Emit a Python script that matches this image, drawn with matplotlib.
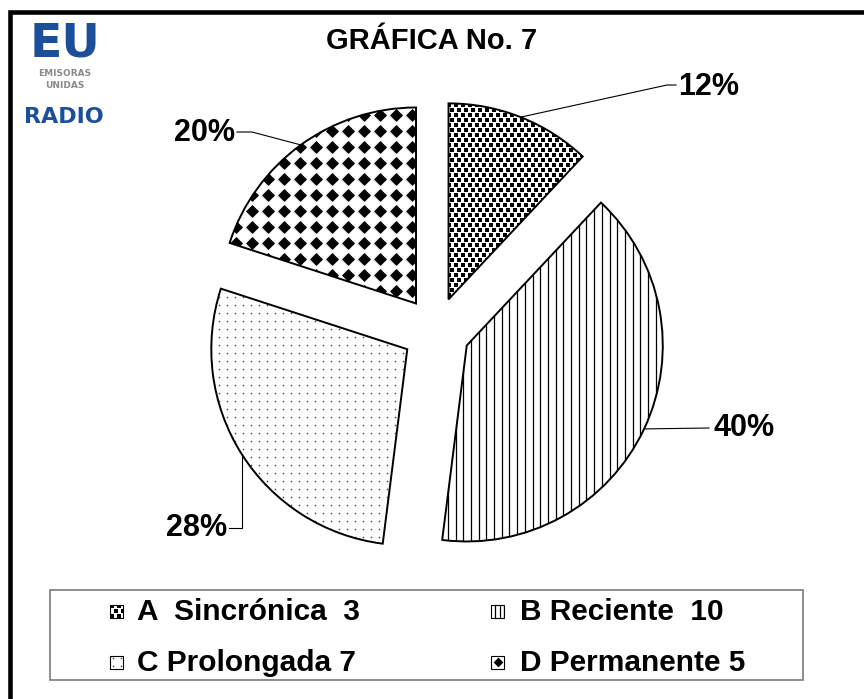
import numpy as np
import matplotlib
matplotlib.use("Agg")
import matplotlib.pyplot as plt
from matplotlib.patches import Rectangle, Wedge

# datos de la gráfica
categorias = ["A  Sincrónica", "B Reciente", "C Prolongada", "D Permanente"]
frecuencias = [3, 10, 7, 5]
separadores = ["  ", "  ", " ", " "]
patrones = ["A", "B", "C", "D"]
titulo = "GRÁFICA No. 7"

W, H = 864, 699
plt.rcParams['font.family'] = ['Liberation Sans', 'DejaVu Sans']


def Y(y):
    # coordenadas de pantalla (y hacia abajo) -> datos (y hacia arriba)
    return H - y


fig = plt.figure(figsize=(W / 100, H / 100), dpi=100)
ax = fig.add_axes([0, 0, 1, 1])


def rellenar(patron, clip, x0, x1, y0, y1, ox=None, oy=None, esc=1.0):
    ox = x0 if ox is None else ox
    oy = y0 if oy is None else oy
    arts = []
    if patron == "A":
        dx, dy = 7 * esc, 5 * esc
        pts = []
        for i, yy in enumerate(np.arange(oy, y1 + dy, dy)):
            for xx in np.arange(ox + (i % 2) * dx / 2, x1 + dx, dx):
                pts.append((xx, yy))
        pts = np.array(pts)
        arts.append(ax.scatter(pts[:, 0], pts[:, 1], marker="s", s=5.5,
                               c="black", linewidths=0))
    elif patron == "B":
        dx = 7.7 * esc
        xs = np.arange(ox, x1 + dx, dx)
        arts.append(ax.vlines(xs, y0, y1, colors="black", linewidth=0.9))
    elif patron == "C":
        d = 8 * esc
        gx, gy = np.meshgrid(np.arange(ox, x1 + d, d), np.arange(oy, y1 + d, d))
        arts.append(ax.scatter(gx.ravel(), gy.ravel(), marker="o", s=1.4,
                               c="#444444", linewidths=0))
    elif patron == "D":
        d = 16 * esc
        gx, gy = np.meshgrid(np.arange(ox, x1 + d, d), np.arange(oy, y1 + d, d))
        arts.append(ax.scatter(gx.ravel(), gy.ravel(), marker="D",
                               s=44 * esc ** 2, c="black", linewidths=0))
    for a in arts:
        a.set_clip_path(clip)


# pastel explotado (explode en unidades de datos = píxeles)
wedges, _ = ax.pie(frecuencias, startangle=90, counterclock=False,
                   explode=[34] * len(frecuencias), center=(436, Y(331)),
                   radius=196,
                   wedgeprops=dict(facecolor="white", edgecolor="none", zorder=1))

for w, p in zip(wedges, patrones):
    cx, cy = w.center
    rellenar(p, w, cx - w.r, cx + w.r, cy - w.r, cy + w.r)
    ax.add_patch(Wedge(w.center, w.r, w.theta1, w.theta2, facecolor="none",
                       edgecolor="black", linewidth=1.4, zorder=3))

# porcentajes con líneas guía
total = sum(frecuencias)
pos_etq = [(678, 87, "left"), (713, 428, "left"), (227, 528, "right"), (235, 133, "right")]
codos = [[(667, 85), (676, 85)], [(709, 428)], [(None, 528), (229, 528)],
         [(252, 132), (237, 132)]]
for w, v, (lx, ly, ha), cod in zip(wedges, frecuencias, pos_etq, codos):
    ang = np.deg2rad((w.theta1 + w.theta2) / 2)
    px = w.center[0] + w.r * np.cos(ang)
    py = w.center[1] + w.r * np.sin(ang)
    xs, ys = [px], [py]
    for (qx, qy) in cod:
        xs.append(px if qx is None else qx)
        ys.append(Y(qy))
    ax.plot(xs, ys, color="black", linewidth=0.8, zorder=4)
    ax.text(lx, Y(ly), f"{round(v / total * 100)}%", ha=ha, va="center",
            fontsize=22, fontweight="bold")

ax.text(432, Y(41), titulo, ha="center", va="center", fontsize=21,
        fontweight="bold")

# leyenda
ax.add_patch(Rectangle((50, Y(680)), 753, 90, facecolor="none",
                       edgecolor="#7a7a7a", linewidth=1.2))
marc_pos = [(110, 611), (491, 611), (110, 662), (491, 662)]
txt_pos = [(137, 620), (520, 620), (137, 671), (520, 671)]
for cat, v, sep, p, (mx, my), (tx, ty) in zip(categorias, frecuencias, separadores,
                                               patrones, marc_pos, txt_pos):
    cuadro = Rectangle((mx, Y(my) - 6.5), 13, 13, facecolor="white",
                       edgecolor="black", linewidth=0.8)
    ax.add_patch(cuadro)
    x0, y0 = mx, Y(my) - 6.5
    if p == "A":
        rellenar(p, cuadro, x0, x0 + 13, y0, y0 + 13, ox=x0 + 2, oy=y0 + 2)
    elif p == "B":
        rellenar(p, cuadro, x0, x0 + 13, y0, y0 + 13, ox=x0 + 4.3, esc=0.56)
    elif p == "C":
        rellenar(p, cuadro, x0, x0 + 13, y0, y0 + 13, ox=x0 + 2.5, oy=y0 + 2.5)
    else:
        rellenar(p, cuadro, x0, x0 + 13, y0, y0 + 13, ox=x0 + 6.5, oy=y0 + 6.5,
                 esc=0.75)
    ax.text(tx, Y(ty), f"{cat}{sep}{v}", ha="left", va="baseline",
            fontsize=21.5, fontweight="bold")

# logotipo
azul = "#1c4f9a"
ax.text(65, Y(44), "EU", ha="center", va="center", fontsize=34,
        fontweight="heavy", color=azul, family="DejaVu Sans")
ax.text(65, Y(73), "EMISORAS", ha="center", va="center", fontsize=6.5,
        fontweight="bold", color="#8a8a8a", family="DejaVu Sans")
ax.text(65, Y(85), "UNIDAS", ha="center", va="center", fontsize=6.5,
        fontweight="bold", color="#8a8a8a", family="DejaVu Sans")
ax.text(64, Y(117), "RADIO", ha="center", va="center", fontsize=16,
        fontweight="heavy", color=azul, family="DejaVu Sans")

# marco
ax.plot([10, 10, W + 5], [-5, Y(12), Y(12)], color="black", linewidth=3.3,
        solid_joinstyle="miter", clip_on=False)

ax.set_xlim(0, W)
ax.set_ylim(0, H)
ax.set_aspect("auto")
ax.axis("off")

fig.savefig("out.png", dpi=100)
